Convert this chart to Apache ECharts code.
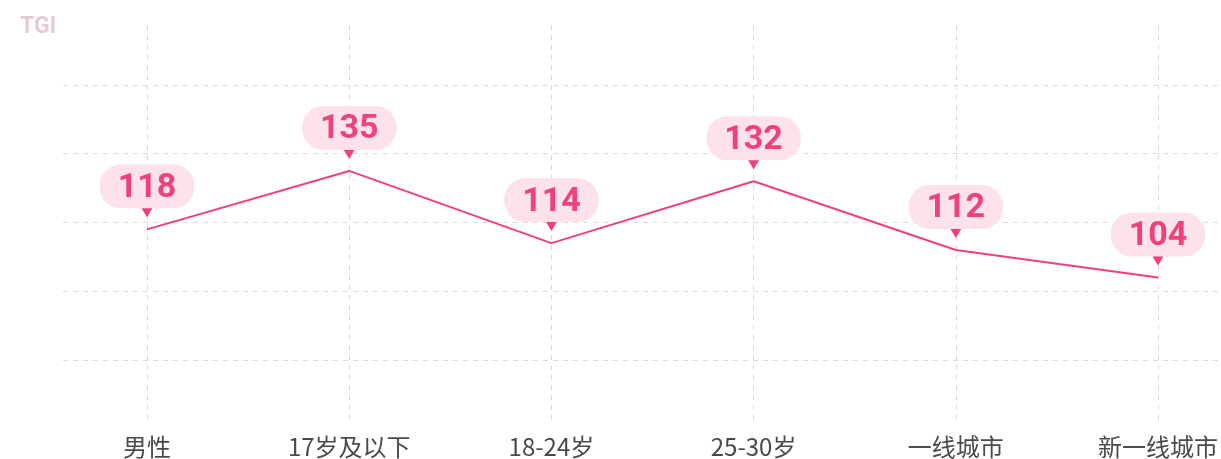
<!DOCTYPE html>
<html>
<head>
<meta charset="utf-8">
<script src="https://cdn.jsdelivr.net/npm/echarts@6/dist/echarts.min.js"></script>
<style>
  html, body { margin: 0; padding: 0; background: #fff; }
  #chart { width: 1221px; height: 459px; }
</style>
</head>
<body>
<div id="chart"></div>
<script>
const categories = ['男性', '17岁及以下', '18-24岁', '25-30岁', '一线城市', '新一线城市'];
const tgiValues = [118, 135, 114, 132, 112, 104];

const pink = '#f0417a';

const chart = echarts.init(document.getElementById('chart'));

chart.setOption({
  animation: false,
  title: {
    text: 'TGI',
    left: 15,
    top: 11,
    textStyle: {
      fontSize: 23,
      fontWeight: 'bold',
      fontFamily: 'Roboto',
      color: '#e8cad3',
    },
  },
  grid: [
    // wide grid only for the horizontal dashed lines
    { left: 63, right: 0, top: 16, bottom: 30 },
    // data grid
    { left: 147, right: 62, top: 25, bottom: 37 },
  ],
  xAxis: [
    { gridIndex: 0, type: 'value', show: false },
    {
      gridIndex: 1,
      type: 'category',
      data: categories,
      boundaryGap: false,
      axisLine: { show: false },
      axisTick: { show: false },
      axisLabel: {
        margin: 13,
        fontSize: 24,
        color: '#4a4a4a',
        fontFamily: 'Noto Sans CJK SC',
      },
      splitLine: {
        show: true,
        lineStyle: { color: '#e8d2da', type: [5, 5], width: 1 },
      },
    },
  ],
  yAxis: [
    {
      gridIndex: 0,
      type: 'value',
      min: 60,
      max: 180,
      interval: 20,
      axisLine: { show: false },
      axisTick: { show: false },
      axisLabel: { show: false },
      splitLine: {
        show: true,
        showMinLine: false,
        showMaxLine: false,
        lineStyle: { color: '#dcdcdc', type: [5, 5], width: 1 },
      },
    },
    {
      gridIndex: 1,
      type: 'value',
      min: 61.96,
      max: 177.45,
      show: false,
      splitLine: { show: false },
    },
  ],
  series: [
    {
      type: 'line',
      xAxisIndex: 1,
      yAxisIndex: 1,
      data: tgiValues,
      lineStyle: { color: pink, width: 2 },
      itemStyle: { color: pink },
      symbol: 'triangle',
      symbolSize: [12, 10],
      symbolRotate: 180,
      symbolOffset: [0, -17],
      emphasis: { disabled: true },
      label: {
        show: true,
        position: 'top',
        distance: 2,
        formatter: '{v|{c}}',
        rich: {
          v: {
            fontSize: 34,
            fontWeight: 'bold',
            fontFamily: 'Roboto',
            color: pink,
            backgroundColor: '#fde2eb',
            borderRadius: 21,
            padding: [7, 18, 3, 18],
            lineHeight: 38,
          },
        },
      },
    },
  ],
});
</script>
</body>
</html>
